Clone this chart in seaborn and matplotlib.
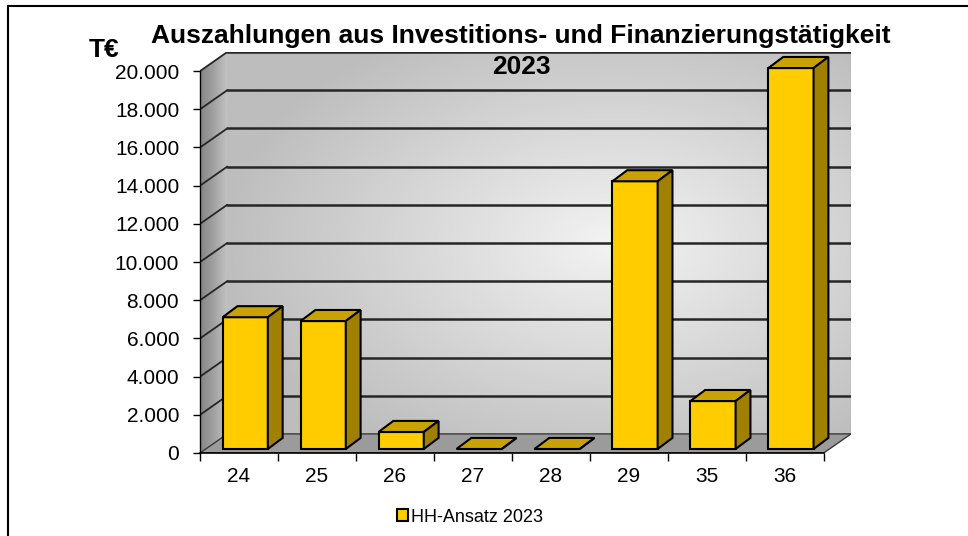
import numpy as np
import matplotlib
matplotlib.use("Agg")
import matplotlib.pyplot as plt
from matplotlib.patches import Polygon, Patch
from matplotlib.lines import Line2D
from matplotlib.colors import LinearSegmentedColormap
import seaborn as sns

# data (T€)
categories = ["24", "25", "26", "27", "28", "29", "35", "36"]
values = [6900, 6700, 890, 0, 0, 14020, 2510, 19950]
series_name = "HH-Ansatz 2023"
y_ticks = [0, 2000, 4000, 6000, 8000, 10000, 12000, 14000, 16000, 18000, 20000]
y_tick_labels = ["0", "2.000", "4.000", "6.000", "8.000", "10.000",
                 "12.000", "14.000", "16.000", "18.000", "20.000"]

# fake 3d geometry (x in category units, y in value units)
WALL_DX, WALL_DY = 0.35, 1000
BAR_OFF_X, BAR_OFF_Y = 0.08, 210
BAR_DX, BAR_DY = 0.19, 580
BAR_W = 0.58

FRONT = "#FFCC00"
TOP = "#C9A100"
SIDE = "#A08000"

sns.set_style("white")
plt.rcParams["font.family"] = ["Liberation Sans", "DejaVu Sans"]
plt.rcParams["text.color"] = "black"
plt.rcParams["xtick.color"] = "black"
plt.rcParams["ytick.color"] = "black"
plt.rcParams["axes.labelcolor"] = "black"

fig = plt.figure(figsize=(9.68, 5.36), dpi=100)
ax = fig.add_axes([200 / 968, 83 / 536, 651 / 968, 401 / 536])

x_lo, x_hi = -0.5, len(categories) - 0.5
y_top = y_ticks[-1]

# back wall with radial gradient
gx = np.linspace(0, 1, 300)
gy = np.linspace(0, 1, 200)
GX, GY = np.meshgrid(gx, gy)
dist = np.sqrt(((GX - 0.62) / 0.75) ** 2 + ((GY - 0.5) / 0.75) ** 2)
wall_cmap = LinearSegmentedColormap.from_list("wall", ["#f3f3f3", "#bdbdbd"])
ax.imshow(dist, cmap=wall_cmap, vmin=0, vmax=0.85, origin="lower", aspect="auto",
          extent=[x_lo + WALL_DX, x_hi + WALL_DX, WALL_DY, y_top + WALL_DY],
          zorder=0, interpolation="bilinear")

# left side wall
left_wall = Polygon([(x_lo, 0), (x_lo + WALL_DX, WALL_DY),
                     (x_lo + WALL_DX, y_top + WALL_DY), (x_lo, y_top)],
                    closed=True, facecolor="none", edgecolor="none")
ax.add_patch(left_wall)
lw_cmap = LinearSegmentedColormap.from_list("lwall", ["#858585", "#a2a2a2", "#c4c4c4"])
side_img = ax.imshow(np.linspace(0, 1, 100)[None, :], cmap=lw_cmap, aspect="auto",
                     extent=[x_lo, x_lo + WALL_DX, 0, y_top + WALL_DY],
                     origin="lower", zorder=0.5, interpolation="bilinear")
side_img.set_clip_path(left_wall)

# right edge of back wall
ax.plot([x_hi + WALL_DX, x_hi + WALL_DX], [WALL_DY, y_top + WALL_DY],
        color="#a8a8a8", lw=1, zorder=1)

# grid lines on back and side wall
for v in y_ticks[1:]:
    ax.plot([x_lo + WALL_DX, x_hi + WALL_DX], [v + WALL_DY, v + WALL_DY],
            color="#262626", lw=1.8, zorder=1)
    ax.plot([x_lo, x_lo + WALL_DX], [v, v + WALL_DY], color="#262626", lw=1.3, zorder=1)

# floor
floor = Polygon([(x_lo, 0), (x_hi, 0), (x_hi + WALL_DX, WALL_DY), (x_lo + WALL_DX, WALL_DY)],
                closed=True, facecolor="#9b9b9b", edgecolor="#3a3a3a", lw=1, zorder=1.5)
ax.add_patch(floor)

# bars: front faces from seaborn, top and side faces added from the patches
sns.barplot(x=categories, y=values, color=FRONT, saturation=1, width=BAR_W,
            edgecolor="black", linewidth=1.5, ax=ax, zorder=3)

for p in ax.patches:
    if not hasattr(p, "get_height") or p is floor:
        continue
    if p.get_facecolor()[:3] != matplotlib.colors.to_rgb(FRONT):
        continue
    x0 = p.get_x() + BAR_OFF_X
    w = p.get_width()
    h = p.get_height()
    p.set_x(x0)
    p.set_y(BAR_OFF_Y)
    y0, y1 = BAR_OFF_Y, BAR_OFF_Y + h
    top = Polygon([(x0, y1), (x0 + w, y1), (x0 + w + BAR_DX, y1 + BAR_DY), (x0 + BAR_DX, y1 + BAR_DY)],
                  closed=True, facecolor=TOP, edgecolor="black", lw=1.5, zorder=3)
    side = Polygon([(x0 + w, y0), (x0 + w + BAR_DX, y0 + BAR_DY),
                    (x0 + w + BAR_DX, y1 + BAR_DY), (x0 + w, y1)],
                   closed=True, facecolor=SIDE, edgecolor="black", lw=1.5, zorder=3)
    ax.add_patch(top)
    ax.add_patch(side)

ax.set_xlim(x_lo, x_hi + WALL_DX)
ax.set_ylim(0, y_top + WALL_DY)
ax.set_xlabel("")
ax.set_ylabel("")

ax.set_yticks(y_ticks)
ax.set_yticklabels(y_tick_labels)
ax.set_xticks(range(len(categories)))
ax.set_xticklabels(categories)
ax.set_xticks(np.arange(x_lo, x_hi + 0.01, 1), minor=True)
ax.tick_params(axis="y", direction="out", length=5, width=1, pad=10, labelsize=15,
               left=True, color="black", labelcolor="black")
ax.tick_params(axis="x", which="major", length=0, pad=10, labelsize=15, labelcolor="black")
ax.tick_params(axis="x", which="minor", direction="out", length=6, width=1,
               bottom=True, color="black")

for s in ["top", "right"]:
    ax.spines[s].set_visible(False)
ax.spines["left"].set_bounds(0, y_top)
ax.spines["bottom"].set_bounds(x_lo, x_hi)
ax.spines["left"].set_color("black")
ax.spines["bottom"].set_color("black")
ax.spines["left"].set_linewidth(1)
ax.spines["bottom"].set_linewidth(1.2)
ax.grid(False)

# titles
fig.text(521 / 968, 1 - 43 / 536, "Auszahlungen aus Investitions- und Finanzierungstätigkeit",
         ha="center", va="baseline", fontsize=19, fontweight="bold", color="black")
fig.text(521 / 968, 1 - 74 / 536, "2023", ha="center", va="baseline",
         fontsize=19, fontweight="bold", color="black", zorder=5)
fig.text(104.5 / 968, 1 - 57 / 536, "T€", ha="center", va="baseline",
         fontsize=19, fontweight="bold", color="black")

# legend
handle = Patch(facecolor=FRONT, edgecolor="black", lw=1.5)
fig.legend(handles=[handle], labels=[series_name], loc="center",
           bbox_to_anchor=(470 / 968, 1 - 517 / 536), frameon=False, fontsize=13,
           handlelength=0.6, handleheight=0.6, handletextpad=0.2, labelcolor="black")

# chart border (left and top)
fig.add_artist(Line2D([8 / 968, 8 / 968], [0, 1 - 6 / 536], transform=fig.transFigure,
                      color="black", lw=1.5))
fig.add_artist(Line2D([8 / 968, 1], [1 - 6 / 536, 1 - 6 / 536], transform=fig.transFigure,
                      color="black", lw=1.5))

fig.savefig("out.png", dpi=100)
